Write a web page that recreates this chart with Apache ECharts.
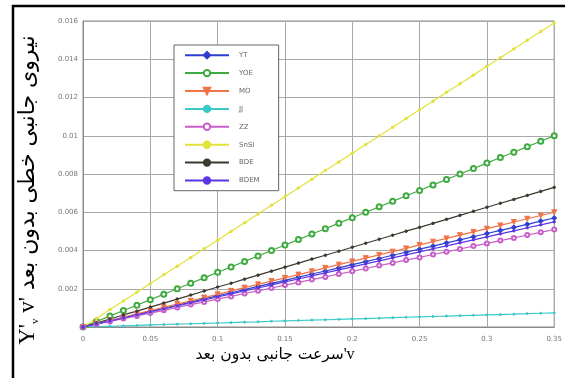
<!DOCTYPE html>
<html>
<head>
<meta charset="utf-8">
<script src="https://cdn.jsdelivr.net/npm/echarts@6/dist/echarts.min.js"></script>
<style>
  html, body { margin: 0; padding: 0; background: #fff; }
  #chart { width: 565px; height: 378px; }
</style>
</head>
<body>
<div id="chart"></div>
<script>
// Dimensionless lateral velocity v'
const vPrime = [0, 0.01, 0.02, 0.03, 0.04, 0.05, 0.06, 0.07, 0.08, 0.09,
  0.10, 0.11, 0.12, 0.13, 0.14, 0.15, 0.16, 0.17, 0.18, 0.19,
  0.20, 0.21, 0.22, 0.23, 0.24, 0.25, 0.26, 0.27, 0.28, 0.29,
  0.30, 0.31, 0.32, 0.33, 0.34, 0.35];

// Linear lateral force Y'v·v' for each estimation method
const seriesNames = ['YT', 'YOE', 'MO', 'JJ', 'ZZ', 'SnSI', 'BDE', 'BDEM'];

const yT = [0, .00016, .00033, .00049, .00065, .00081, .00098, .00114, .0013, .00147,
  .00163, .00179, .00195, .00212, .00228, .00244, .00261, .00277, .00293, .00309,
  .00326, .00342, .00358, .00375, .00391, .00407, .00423, .0044, .00456, .00472,
  .00489, .00505, .00521, .00537, .00554, .0057];
const yOE = [0, .00029, .00057, .00086, .00114, .00143, .00171, .002, .00229, .00257,
  .00286, .00314, .00343, .00371, .004, .00429, .00457, .00486, .00514, .00543,
  .00571, .006, .00629, .00657, .00686, .00714, .00743, .00771, .008, .00829,
  .00857, .00886, .00914, .00943, .00971, .01];
const mO = [0, .00017, .00034, .00051, .00069, .00086, .00103, .0012, .00137, .00154,
  .00171, .00189, .00206, .00223, .0024, .00257, .00274, .00291, .00309, .00326,
  .00343, .0036, .00377, .00394, .00411, .00429, .00446, .00463, .0048, .00497,
  .00514, .00531, .00549, .00566, .00583, .006];
const jJ = [0, .00002, .00004, .00006, .00008, .00011, .00013, .00015, .00017, .00019,
  .00021, .00023, .00025, .00027, .0003, .00032, .00034, .00036, .00038, .0004,
  .00042, .00044, .00046, .00049, .00051, .00053, .00055, .00057, .00059, .00061,
  .00063, .00065, .00067, .0007, .00072, .00074];
const zZ = [0, .00015, .00029, .00044, .00058, .00073, .00087, .00102, .00117, .00131,
  .00146, .0016, .00175, .00189, .00204, .00219, .00233, .00248, .00262, .00277,
  .00291, .00306, .00321, .00335, .0035, .00364, .00379, .00393, .00408, .00423,
  .00437, .00452, .00466, .00481, .00495, .0051];
const snSI = [0, .00045, .00091, .00136, .00182, .00227, .00273, .00318, .00363, .00409,
  .00454, .005, .00545, .00591, .00636, .00681, .00727, .00772, .00818, .00863,
  .00909, .00954, .00999, .01045, .0109, .01136, .01181, .01227, .01272, .01317,
  .01363, .01408, .01454, .01499, .01545, .0159];
const bDE = [0, .00021, .00042, .00063, .00083, .00104, .00125, .00146, .00167, .00188,
  .00209, .00229, .0025, .00271, .00292, .00313, .00334, .00355, .00375, .00396,
  .00417, .00438, .00459, .0048, .00501, .00521, .00542, .00563, .00584, .00605,
  .00626, .00647, .00667, .00688, .00709, .0073];
const bDEM = [0, .00016, .00031, .00047, .00063, .00079, .00094, .0011, .00126, .00141,
  .00157, .00173, .00189, .00204, .0022, .00236, .00251, .00267, .00283, .00299,
  .00314, .0033, .00346, .00361, .00377, .00393, .00409, .00424, .0044, .00456,
  .00471, .00487, .00503, .00519, .00534, .0055];

const seriesValues = [yT, yOE, mO, jJ, zZ, snSI, bDE, bDEM];

// Tick labels
const xTickLabels = ['0', '0.05', '0.1', '0.15', '0.2', '0.25', '0.3', '0.35'];
const yTickLabels = ['0', '0.002', '0.004', '0.006', '0.008', '0.01', '0.012', '0.014', '0.016'];

const xTitle = 'سرعت جانبی بدون بعد';
const yTitle = 'نیروی جانبی خطی بدون بعد';

const styles = [
  { color: '#2f3fd0', symbol: 'diamond', size: 5, rotate: 0 },
  { color: '#3faa3f', symbol: 'emptyCircle', size: 5, rotate: 0 },
  { color: '#f07448', symbol: 'triangle', size: 5, rotate: 180 },
  { color: '#3cc8c8', symbol: 'circle', size: 2, rotate: 0 },
  { color: '#c85ec8', symbol: 'emptyCircle', size: 4, rotate: 0 },
  { color: '#e2e23a', symbol: 'circle', size: 2.5, rotate: 0 },
  { color: '#3a3a2e', symbol: 'circle', size: 2.5, rotate: 0 },
  { color: '#5b36e6', symbol: 'circle', size: 2.5, rotate: 0 }
];

const chart = echarts.init(document.getElementById('chart'), null, { renderer: 'canvas' });

const series = seriesNames.map((name, i) => ({
  name: name,
  type: 'line',
  data: vPrime.map((v, j) => [v, seriesValues[i][j]]),
  symbol: styles[i].symbol,
  symbolSize: styles[i].size,
  symbolRotate: styles[i].rotate,
  showAllSymbol: true,
  animation: false,
  lineStyle: { color: styles[i].color, width: 1.2 },
  itemStyle: { color: styles[i].color, borderColor: styles[i].color, borderWidth: 1 },
  emphasis: { disabled: true }
}));

const option = {
  animation: false,
  backgroundColor: '#fff',
  grid: {
    left: 83, right: 8, top: 21, bottom: 51,
    show: true, borderColor: '#8a8a8a', borderWidth: 1, backgroundColor: '#fff'
  },
  xAxis: {
    type: 'value', min: 0, max: 0.35, interval: 0.05,
    axisLine: { show: true, lineStyle: { color: '#8a8a8a' } },
    axisTick: { show: false },
    axisLabel: {
      color: '#777', fontSize: 7, fontFamily: 'DejaVu Sans', margin: 9,
      formatter: (val) => xTickLabels[Math.round(val / 0.05)]
    },
    splitLine: { show: true, lineStyle: { color: '#a8a8a8', width: 1 } }
  },
  yAxis: {
    type: 'value', min: 0, max: 0.016, interval: 0.002,
    axisLine: { show: true, lineStyle: { color: '#8a8a8a' } },
    axisTick: { show: false },
    axisLabel: {
      color: '#777', fontSize: 7, fontFamily: 'DejaVu Sans', margin: 5,
      showMinLabel: false,
      formatter: (val) => yTickLabels[Math.round(val / 0.002)]
    },
    splitLine: { show: true, lineStyle: { color: '#a8a8a8', width: 1 } }
  },
  legend: {
    orient: 'vertical',
    left: 174, top: 45,
    padding: [6, 19, 6, 10],
    itemWidth: 44, itemHeight: 8, itemGap: 9.5,
    backgroundColor: '#fff',
    borderColor: '#666', borderWidth: 1, borderRadius: 0,
    textStyle: { color: '#666', fontSize: 7, fontFamily: 'DejaVu Sans', padding: [0, 0, 0, 5] },
    selectedMode: false,
    data: seriesNames
  },
  graphic: [
    {
      type: 'rect', silent: true, z: 100,
      shape: { x: 13, y: 6, width: 560, height: 380 },
      style: { fill: 'none', stroke: '#000', lineWidth: 2.5 }
    },
    {
      type: 'text', silent: true, z: 100,
      x: 275, y: 355,
      style: {
        text: '{p|' + xTitle + '}{v|\'v}',
        align: 'center', verticalAlign: 'middle',
        rich: {
          p: { fontFamily: 'DejaVu Sans', fontSize: 15.5, fill: '#000' },
          v: { fontFamily: 'Liberation Serif', fontSize: 16, fill: '#000' }
        }
      }
    },
    {
      type: 'text', silent: true, z: 100,
      x: 28, y: 190, rotation: Math.PI / 2,
      style: {
        text: '{a|Y\'}{s|v}{a| v\'}{p| ' + yTitle + '}',
        align: 'center', verticalAlign: 'middle',
        rich: {
          a: { fontFamily: 'Liberation Serif', fontSize: 23, fill: '#000', lineHeight: 25 },
          s: { fontFamily: 'Liberation Serif', fontSize: 11, fill: '#000', lineHeight: 25, verticalAlign: 'bottom', padding: [9, 0, 0, 0] },
          p: { fontFamily: 'DejaVu Sans', fontSize: 22, fill: '#000', lineHeight: 25 }
        }
      }
    }
  ],
  series: series
};

chart.setOption(option);
</script>
</body>
</html>
